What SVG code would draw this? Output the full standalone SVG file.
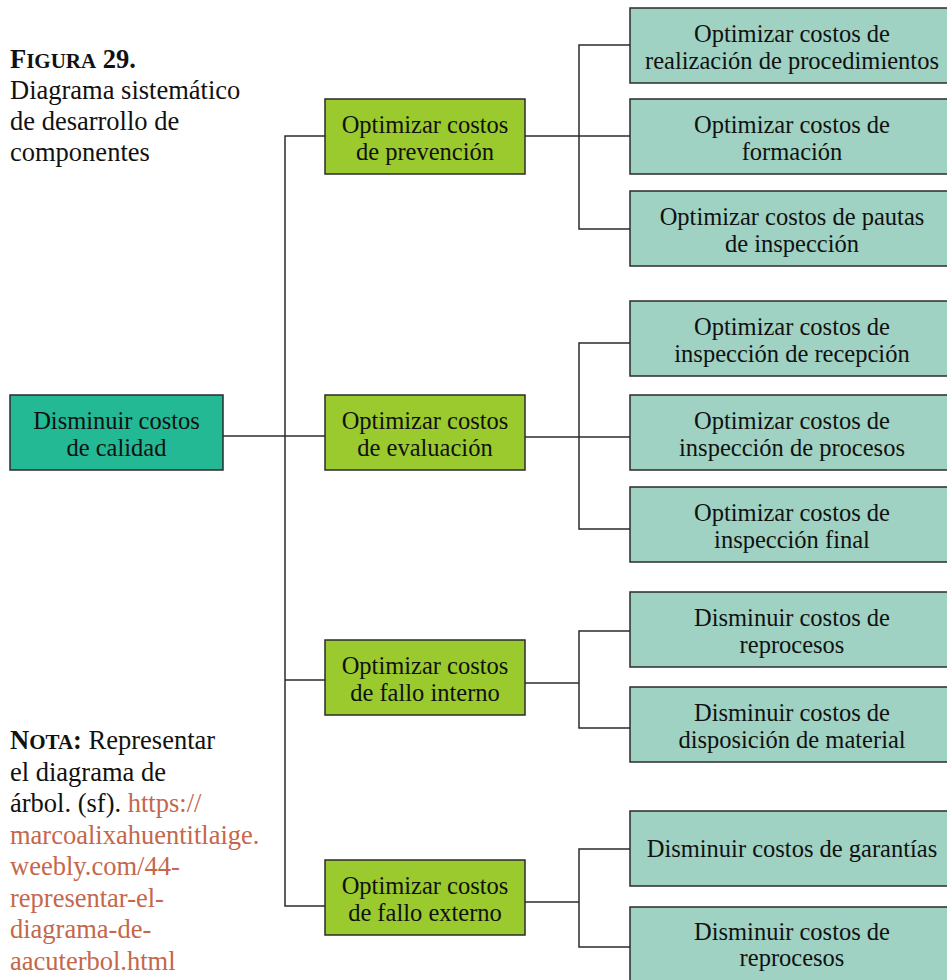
<svg xmlns="http://www.w3.org/2000/svg" width="947" height="980" viewBox="0 0 947 980">
  <style>
    .root { fill: #23b994; stroke: #2b2b2b; stroke-width: 1.5; }
    .mid { fill: #9aca2d; stroke: #2b2b2b; stroke-width: 1.5; }
    .leaf { fill: #9fd2c2; stroke: #2b2b2b; stroke-width: 1.5; }
    .lbl { font-family: "Liberation Serif", "DejaVu Serif", serif; font-size: 24.5px; fill: #111; text-anchor: middle; }
    .side { font-family: "Liberation Serif", "DejaVu Serif", serif; font-size: 26.5px; fill: #111; }
    .sc { font-weight: bold; }
    .link { fill: #c4674b; }
    #connectors path { fill: none; stroke: #2b2b2b; stroke-width: 1.5; }
  </style>

  <rect width="947" height="980" fill="#ffffff"/>

  <!-- caption -->
  <g id="caption">
    <text class="side" x="10" y="68"><tspan class="sc">F<tspan font-size="21">IGURA</tspan> 29.</tspan></text>
    <text class="side" x="10" y="99">Diagrama sistemático</text>
    <text class="side" x="10" y="130">de desarrollo de</text>
    <text class="side" x="10" y="161">componentes</text>
  </g>

  <!-- source note -->
  <g id="note">
    <text class="side" x="10" y="749"><tspan class="sc">N<tspan font-size="21">OTA</tspan>:</tspan> Representar</text>
    <text class="side" x="10" y="781">el diagrama de</text>
    <text class="side" x="10" y="812">árbol. (sf). <tspan class="link">https://</tspan></text>
    <text class="side link" x="10" y="844">marcoalixahuentitlaige.</text>
    <text class="side link" x="10" y="875">weebly.com/44-</text>
    <text class="side link" x="10" y="907">representar-el-</text>
    <text class="side link" x="10" y="938">diagrama-de-</text>
    <text class="side link" x="10" y="970">aacuterbol.html</text>
  </g>

  <!-- connectors -->
  <g id="connectors">
    <path d="M223 436 H325"/>
    <path d="M325 136 H285 V906 H325"/>
    <path d="M285 680 H325"/>
    <!-- prevención -->
    <path d="M525 136 H630"/>
    <path d="M630 45 H579 V229 H630"/>
    <!-- evaluación -->
    <path d="M525 437 H630"/>
    <path d="M630 343 H579 V529 H630"/>
    <!-- fallo interno -->
    <path d="M525 683 H579"/>
    <path d="M630 631 H579 V728 H630"/>
    <!-- fallo externo -->
    <path d="M525 902 H579"/>
    <path d="M630 849 H579 V947 H630"/>
  </g>

  <!-- root -->
  <g id="n-root">
    <rect class="root" x="10" y="395" width="213" height="75"/>
    <text class="lbl" x="116.5" y="429">Disminuir costos</text>
    <text class="lbl" x="116.5" y="456">de calidad</text>
  </g>

  <!-- second level -->
  <g id="n-prevencion">
    <rect class="mid" x="325" y="99" width="200" height="75"/>
    <text class="lbl" x="425" y="133">Optimizar costos</text>
    <text class="lbl" x="425" y="160">de prevención</text>
  </g>
  <g id="n-evaluacion">
    <rect class="mid" x="325" y="395" width="200" height="75"/>
    <text class="lbl" x="425" y="429">Optimizar costos</text>
    <text class="lbl" x="425" y="456">de evaluación</text>
  </g>
  <g id="n-fallo-interno">
    <rect class="mid" x="325" y="640" width="200" height="75"/>
    <text class="lbl" x="425" y="674">Optimizar costos</text>
    <text class="lbl" x="425" y="701">de fallo interno</text>
  </g>
  <g id="n-fallo-externo">
    <rect class="mid" x="325" y="860" width="200" height="75"/>
    <text class="lbl" x="425" y="894">Optimizar costos</text>
    <text class="lbl" x="425" y="921">de fallo externo</text>
  </g>

  <!-- third level -->
  <g id="n-procedimientos">
    <rect class="leaf" x="630" y="8" width="330" height="75"/>
    <text class="lbl" x="792" y="42">Optimizar costos de</text>
    <text class="lbl" x="792" y="69">realización de procedimientos</text>
  </g>
  <g id="n-formacion">
    <rect class="leaf" x="630" y="99" width="330" height="75"/>
    <text class="lbl" x="792" y="133">Optimizar costos de</text>
    <text class="lbl" x="792" y="160">formación</text>
  </g>
  <g id="n-pautas">
    <rect class="leaf" x="630" y="191" width="330" height="75"/>
    <text class="lbl" x="792" y="225">Optimizar costos de pautas</text>
    <text class="lbl" x="792" y="252">de inspección</text>
  </g>
  <g id="n-recepcion">
    <rect class="leaf" x="630" y="301" width="330" height="75"/>
    <text class="lbl" x="792" y="335">Optimizar costos de</text>
    <text class="lbl" x="792" y="362">inspección de recepción</text>
  </g>
  <g id="n-procesos">
    <rect class="leaf" x="630" y="395" width="330" height="75"/>
    <text class="lbl" x="792" y="429">Optimizar costos de</text>
    <text class="lbl" x="792" y="456">inspección de procesos</text>
  </g>
  <g id="n-final">
    <rect class="leaf" x="630" y="487" width="330" height="75"/>
    <text class="lbl" x="792" y="521">Optimizar costos de</text>
    <text class="lbl" x="792" y="548">inspección final</text>
  </g>
  <g id="n-reprocesos-int">
    <rect class="leaf" x="630" y="592" width="330" height="75"/>
    <text class="lbl" x="792" y="626">Disminuir costos de</text>
    <text class="lbl" x="792" y="653">reprocesos</text>
  </g>
  <g id="n-material">
    <rect class="leaf" x="630" y="687" width="330" height="75"/>
    <text class="lbl" x="792" y="721">Disminuir costos de</text>
    <text class="lbl" x="792" y="748">disposición de material</text>
  </g>
  <g id="n-garantias">
    <rect class="leaf" x="630" y="811" width="330" height="75"/>
    <text class="lbl" x="792" y="857">Disminuir costos de garantías</text>
  </g>
  <g id="n-reprocesos-ext">
    <rect class="leaf" x="630" y="907" width="330" height="75"/>
    <text class="lbl" x="792" y="940">Disminuir costos de</text>
    <text class="lbl" x="792" y="966">reprocesos</text>
  </g>
</svg>
